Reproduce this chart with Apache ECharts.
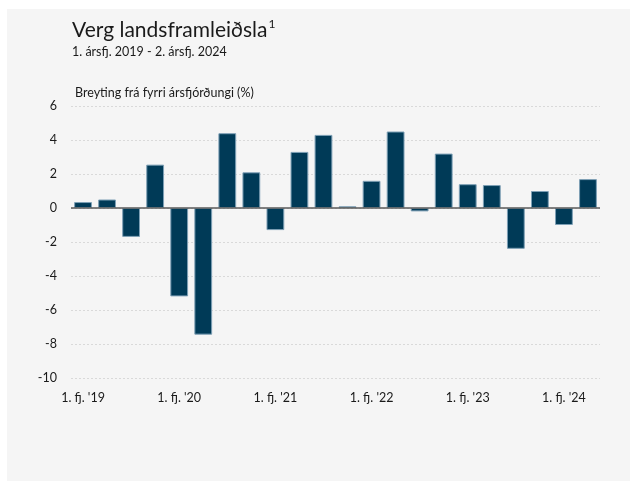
<!DOCTYPE html>
<html><head><meta charset="utf-8">
<script src="https://cdn.jsdelivr.net/npm/echarts@6/dist/echarts.min.js"></script>
<style>html,body{margin:0;padding:0;background:#fff}#c{width:636px;height:488px}</style>
</head><body><div id="c"></div>
<script>
const categories = ["Q1'19","Q2'19","Q3'19","Q4'19","Q1'20","Q2'20","Q3'20","Q4'20","Q1'21","Q2'21","Q3'21","Q4'21","Q1'22","Q2'22","Q3'22","Q4'22","Q1'23","Q2'23","Q3'23","Q4'23","Q1'24","Q2'24"];
const tickLabels = ["1. fj. '19","","","","1. fj. '20","","","","1. fj. '21","","","","1. fj. '22","","","","1. fj. '23","","","","1. fj. '24",""];
const values = [0.35,0.5,-1.7,2.55,-5.2,-7.45,4.4,2.1,-1.3,3.3,4.3,0.1,1.6,4.5,-0.2,3.2,1.4,1.35,-2.4,1.0,-1.0,1.7];
const yTicks = [-10,-8,-6,-4,-2,0,2,4,6];

const font = 'Lato, "Liberation Sans", sans-serif';
const chart = echarts.init(document.getElementById('c'), null, {renderer:'canvas'});
chart.setOption({
  backgroundColor: '#ffffff',
  animation: false,
  graphic: [
    {type:'rect', shape:{x:7,y:9,width:623,height:472}, style:{fill:'#f5f5f5'}, z:-10},
    {type:'text', left:72, top:18, style:{text:'Verg landsframleiðsla{s|1}', rich:{s:{fontSize:12, verticalAlign:'top', padding:[0,0,12,1], fill:'#1a1a1a', fontFamily:font}}, fontSize:21, fill:'#1a1a1a', fontFamily:font}},
    {type:'text', left:72, top:45, style:{text:'1. ársfj. 2019 - 2. ársfj. 2024', fontSize:12.5, fill:'#1a1a1a', fontFamily:font}},
    {type:'text', left:75, top:86, style:{text:'Breyting frá fyrri ársfjórðungi (%)', fontSize:12.5, fill:'#1a1a1a', fontFamily:font}}
  ],
  grid: {left:71, right:36, top:106, bottom:110, containLabel:false},
  xAxis: {
    type:'category', data: categories,
    axisLine:{show:false}, axisTick:{show:false},
    axisLabel:{interval:0, formatter:(v,i)=>tickLabels[i], color:'#1a1a1a', fontSize:12.5, fontFamily:font, margin:13}
  },
  yAxis: {
    type:'value', min:-10, max:6, interval:2,
    axisLine:{show:false}, axisTick:{show:false},
    axisLabel:{color:'#1a1a1a', fontSize:12.5, fontFamily:font, margin:14},
    splitLine:{show:true, lineStyle:{color:'#d9d9d9', type:[2,2], width:1}}
  },
  series: [{
    type:'bar', data: values, barWidth:'74%',
    itemStyle:{color:'#003a57', borderColor:'#7d9fb5', borderWidth:1},
    markLine:{silent:true, symbol:'none', label:{show:false}, lineStyle:{color:'#595959', type:'solid', width:1.5}, data:[{yAxis:0}], z:5}
  }]
});
</script></body></html>
